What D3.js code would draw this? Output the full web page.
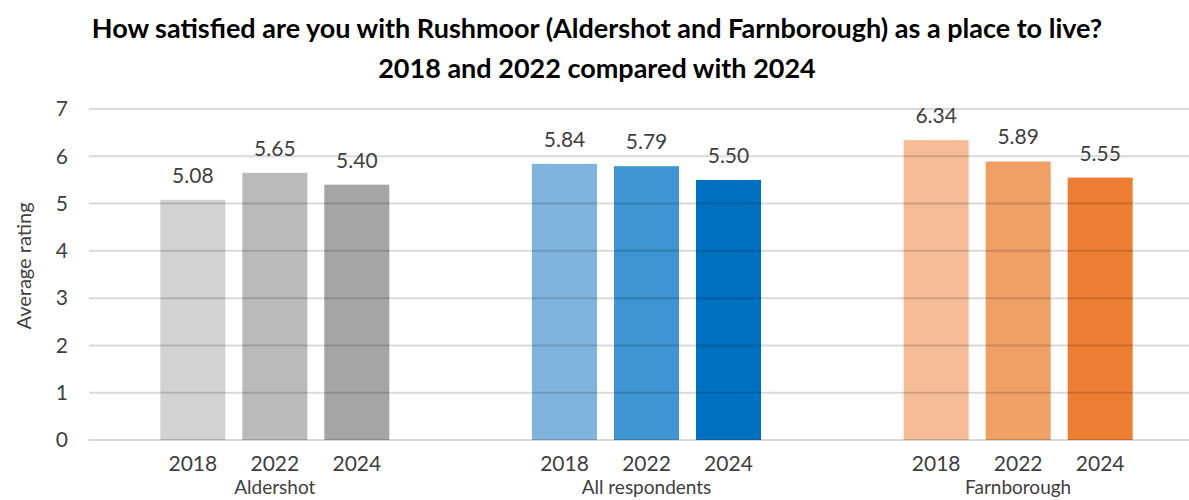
<!DOCTYPE html>
<html>
<head>
<meta charset="utf-8">
<script src="https://cdn.jsdelivr.net/npm/d3@7.9.0/dist/d3.min.js"></script>
<style>
  body { margin: 0; background: #fff; }
  svg { display: block; font-family: Lato, "Open Sans", sans-serif; }
</style>
</head>
<body>
<svg id="chart" width="1189" height="500"></svg>
<script>
/* --- Data --- */
const groups = ['Aldershot', 'All respondents', 'Farnborough'];
const years = ['2018', '2022', '2024'];
const aldershot = [5.08, 5.65, 5.40];
const allRespondents = [5.84, 5.79, 5.50];
const farnborough = [6.34, 5.89, 5.55];
const yTicks = [0, 1, 2, 3, 4, 5, 6, 7];
const titleLines = [
  'How satisfied are you with Rushmoor (Aldershot and Farnborough) as a place to live?',
  '2018 and 2022 compared with 2024'
];

const palette = {
  'Aldershot': ['#d2d2d2', '#bababa', '#a5a5a5'],
  'All respondents': ['#7fb4de', '#3f94d2', '#0070c0'],
  'Farnborough': ['#f5bc95', '#f0a064', '#ed7d31']
};

const seriesByGroup = {
  'Aldershot': aldershot,
  'All respondents': allRespondents,
  'Farnborough': farnborough
};

/* --- Layout --- */
const svg = d3.select('#chart');
const plot = { left: 89, right: 1204, top: 109, bottom: 440 };

const x0 = d3.scaleBand().domain(groups).range([plot.left, plot.right]);
const x1 = d3.scaleBand().domain(years)
  .range([0, x0.bandwidth()])
  .paddingInner(0.207)
  .paddingOuter(0.87);
const y = d3.scaleLinear().domain([0, 7]).range([plot.bottom, plot.top]);

/* --- Title --- */
svg.append('g').selectAll('text')
  .data(titleLines)
  .join('text')
  .attr('x', 597)
  .attr('y', (_, i) => 38 + i * 40)
  .attr('text-anchor', 'middle')
  .attr('font-size', 27)
  .attr('font-weight', 700)
  .attr('fill', '#000')
  .text(d => d);

/* --- Bars --- */
const rows = groups.flatMap(g =>
  years.map((yr, i) => ({ group: g, year: yr, value: seriesByGroup[g][i], idx: i }))
);

svg.append('g').selectAll('rect')
  .data(rows)
  .join('rect')
  .attr('x', d => x0(d.group) + x1(d.year))
  .attr('y', d => y(d.value))
  .attr('width', x1.bandwidth())
  .attr('height', d => y(0) - y(d.value))
  .attr('fill', d => palette[d.group][d.idx]);

/* --- Gridlines (drawn over bars, they show through in the original) --- */
svg.append('g').selectAll('line')
  .data(yTicks)
  .join('line')
  .attr('x1', plot.left)
  .attr('x2', 1189)
  .attr('y1', d => y(d))
  .attr('y2', d => y(d))
  .attr('stroke', 'rgba(0,0,0,0.15)')
  .attr('stroke-width', 2);

/* --- Y axis --- */
const yAxis = d3.axisLeft(y).tickValues(yTicks).tickFormat(d3.format('d')).tickSize(0).tickPadding(0);
svg.append('g')
  .attr('transform', `translate(${plot.left - 21},0)`)
  .call(yAxis)
  .call(g => g.select('.domain').remove())
  .call(g => g.selectAll('text')
    .attr('font-size', 21)
    .attr('font-family', 'Lato, "Open Sans", sans-serif')
    .attr('fill', '#404040'));

svg.append('text')
  .attr('transform', 'translate(31,266) rotate(-90)')
  .attr('text-anchor', 'middle')
  .attr('font-size', 20)
  .attr('fill', '#404040')
  .text('Average rating');

/* --- Data labels --- */
svg.append('g').selectAll('text')
  .data(rows)
  .join('text')
  .attr('x', d => x0(d.group) + x1(d.year) + x1.bandwidth() / 2)
  .attr('y', d => y(d.value) - 17)
  .attr('text-anchor', 'middle')
  .attr('font-size', 21)
  .attr('fill', '#404040')
  .text(d => d.value.toFixed(2));

/* --- Category labels --- */
svg.append('g').selectAll('text')
  .data(rows)
  .join('text')
  .attr('x', d => x0(d.group) + x1(d.year) + x1.bandwidth() / 2)
  .attr('y', 471)
  .attr('text-anchor', 'middle')
  .attr('font-size', 21)
  .attr('fill', '#404040')
  .text(d => d.year);

svg.append('g').selectAll('text')
  .data(groups)
  .join('text')
  .attr('x', d => x0(d) + x0.bandwidth() / 2)
  .attr('y', 494)
  .attr('text-anchor', 'middle')
  .attr('font-size', 19)
  .attr('fill', '#404040')
  .text(d => d);
</script>
</body>
</html>
